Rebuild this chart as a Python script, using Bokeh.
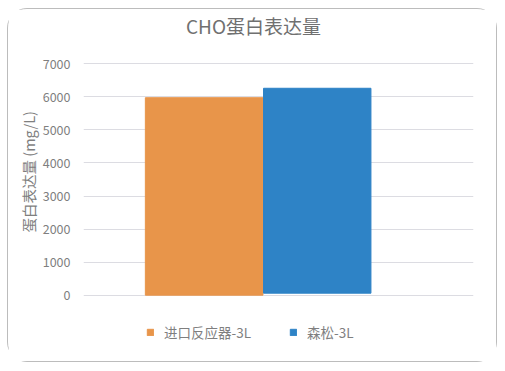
from bokeh.plotting import figure
from bokeh.models import ColumnDataSource, Range1d, Legend, LegendItem, Title, Label
from bokeh.embed import file_html
from bokeh.resources import INLINE

title_text = "CHO蛋白表达量"
y_label = "蛋白表达量 (mg/L)"
series = ["进口反应器-3L", "森松-3L"]
values = [5975, 6260]
bases = [0, 60]
colors = ["#E8954A", "#2E83C6"]
bar_widths = [1.04, 0.95]
y_ticks = [0, 1000, 2000, 3000, 4000, 5000, 6000, 7000]

FONT = "Noto Sans CJK SC"
GRAY = "#7f7f7f"

p = figure(width=488, height=352, output_backend="svg", toolbar_location=None,
           x_range=Range1d(-1.067, 2.382), y_range=Range1d(-1704.3, 8643.5),
           min_border_left=75, min_border_right=25, min_border_top=0,
           min_border_bottom=12, title=None)
p.margin = (8, 0, 0, 7)
p.styles = {"border": "1px solid #bcbcbc", "border-radius": "20px", "box-sizing": "content-box"}
p.outline_line_color = None
p.background_fill_color = "white"
p.border_fill_color = "white"

src = ColumnDataSource(dict(x=list(range(len(series))), top=values, bottom=bases,
                            color=colors, w=bar_widths, name=series))
r = p.vbar(x="x", top="top", bottom="bottom", width="w", color="color", source=src)

p.xaxis.visible = False
p.xgrid.visible = False
p.ygrid.grid_line_color = "#dcdce2"
p.ygrid.grid_line_width = 1
p.yaxis.ticker = y_ticks
p.yaxis.bounds = (0, 7000)
p.yaxis.axis_line_color = None
p.yaxis.major_tick_line_color = None
p.yaxis.minor_tick_line_color = None
p.yaxis.major_label_text_font = FONT
p.yaxis.major_label_text_font_size = "12.5px"
p.yaxis.major_label_text_color = GRAY
p.yaxis.major_label_standoff = 7

ylab = Title(text=y_label, align="left", offset=119, text_font=FONT,
             text_font_size="14.5px", text_font_style="normal", text_color=GRAY,
             standoff=1)
p.add_layout(ylab, "left")

t = Label(x=170, y=326, x_units="screen", y_units="screen", text=title_text,
          text_align="center", text_baseline="middle", text_font=FONT,
          text_font_size="19px", text_color="#707070")
p.add_layout(t)

items = [LegendItem(label=series[i], renderers=[r], index=i) for i in range(len(series))]
legend = Legend(items=items, orientation="horizontal", location=(63, 9),
                glyph_width=8, glyph_height=8, label_standoff=10, spacing=38,
                label_height=16,
                label_text_font=FONT, label_text_font_size="13.5px",
                label_text_color=GRAY, border_line_color=None,
                background_fill_alpha=0, padding=0, margin=0)
p.add_layout(legend, "center")

open("out.html", "w").write(file_html(p, INLINE))
